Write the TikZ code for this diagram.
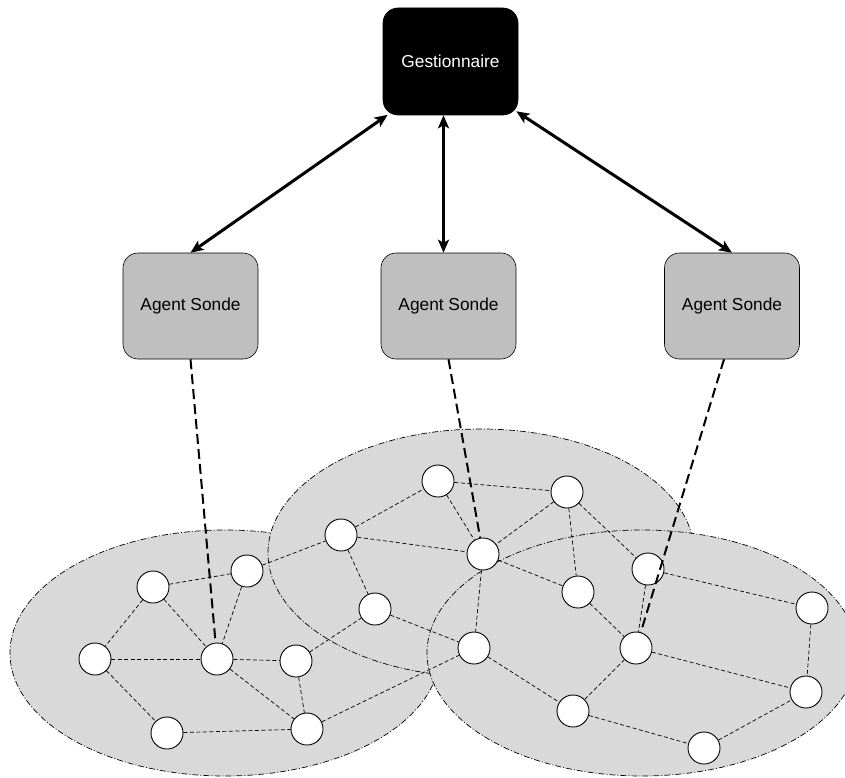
\documentclass[tikz,border=0pt]{standalone}
\usepackage{fontspec}
\setmainfont{Liberation Sans}
\usetikzlibrary{arrows.meta}
\definecolor{cloudgray}{gray}{0.85}
\definecolor{boxgray}{gray}{0.75}
\tikzset{
  cloud/.style={fill=cloudgray, draw=black, line width=0.7pt, dash pattern=on 6pt off 2pt on 1pt off 2pt},
  host/.style={circle, draw=black, fill=white, line width=0.9pt, minimum size=32pt, inner sep=0pt},
  link/.style={draw=black, line width=0.7pt, dash pattern=on 4pt off 2.5pt},
  probe/.style={draw=black, line width=2pt, dash pattern=on 10pt off 5pt},
  boxbase/.style={rectangle, rounded corners=15pt, minimum width=135pt, minimum height=106pt, inner sep=0pt, line width=0.6pt, font=\fontsize{17.3}{20}\selectfont},
  agentbox/.style={boxbase, draw=black, fill=boxgray, text=black},
  managerbox/.style={boxbase, draw=black, fill=black, text=white, minimum height=107pt},
  duplex/.style={line width=3pt, {Stealth[length=13pt,width=11pt,inset=3pt]}-{Stealth[length=13pt,width=11pt,inset=3pt]}}
}
\begin{document}
\begin{tikzpicture}[x=1pt, y=-1pt]
\useasboundingbox (0,0) rectangle (845,778);
% clouds
\path[cloud] (225,653) ellipse [x radius=215, y radius=123];
\path[cloud] (481,553) ellipse [x radius=213, y radius=124];
\path[cloud] (642,653) ellipse [x radius=215, y radius=123];
% boxes
\node[managerbox] (gest) at (450.5,61.5) {Gestionnaire};
\node[agentbox] (ag1) at (190.5,306) {Agent Sonde};
\node[agentbox] (ag2) at (448.5,306) {Agent Sonde};
\node[agentbox] (ag3) at (732,306) {Agent Sonde};
% hosts
\node[host] (a) at (153,587) {};
\node[host] (b) at (247,571) {};
\node[host] (c) at (95,659) {};
\node[host] (d) at (217,659) {};
\node[host] (e) at (296,661) {};
\node[host] (f) at (167,733) {};
\node[host] (g) at (307,729) {};
\node[host] (h) at (341,535) {};
\node[host] (i) at (375,609) {};
\node[host] (j) at (438,481) {};
\node[host] (k) at (567,492) {};
\node[host] (l) at (483,554) {};
\node[host] (m) at (578,592) {};
\node[host] (n) at (648,569) {};
\node[host] (o) at (812,608) {};
\node[host] (p) at (474,648) {};
\node[host] (q) at (636,648) {};
\node[host] (r) at (806,692) {};
\node[host] (s) at (573,711) {};
\node[host] (t) at (704,748) {};
% links
\foreach \u/\v in {a/b,a/c,a/d,b/d,c/d,c/f,d/e,d/g,e/g,f/g,b/h,h/i,e/i,h/l,h/j,j/l,j/k,k/l,k/m,k/n,l/m,l/p,i/p,m/q,n/q,n/o,o/r,q/r,q/s,p/s,s/t,t/r,g/p}
  \draw[link] (\u) -- (\v);
% probes
\draw[probe] (ag1.south) -- (d);
\draw[probe] (ag2.south) -- (l);
\draw[probe] ([xshift=-8pt]ag3.south) -- (q);
% management links
\draw[duplex] ([shift={(5pt,0.5pt)}]gest.south west) -- (ag1.north);
\draw[duplex] ([xshift=-7pt]gest.south) -- ([xshift=-5pt]ag2.north);
\draw[duplex] ([shift={(-2pt,4pt)}]gest.south east) -- (ag3.north);
\end{tikzpicture}
\end{document}
